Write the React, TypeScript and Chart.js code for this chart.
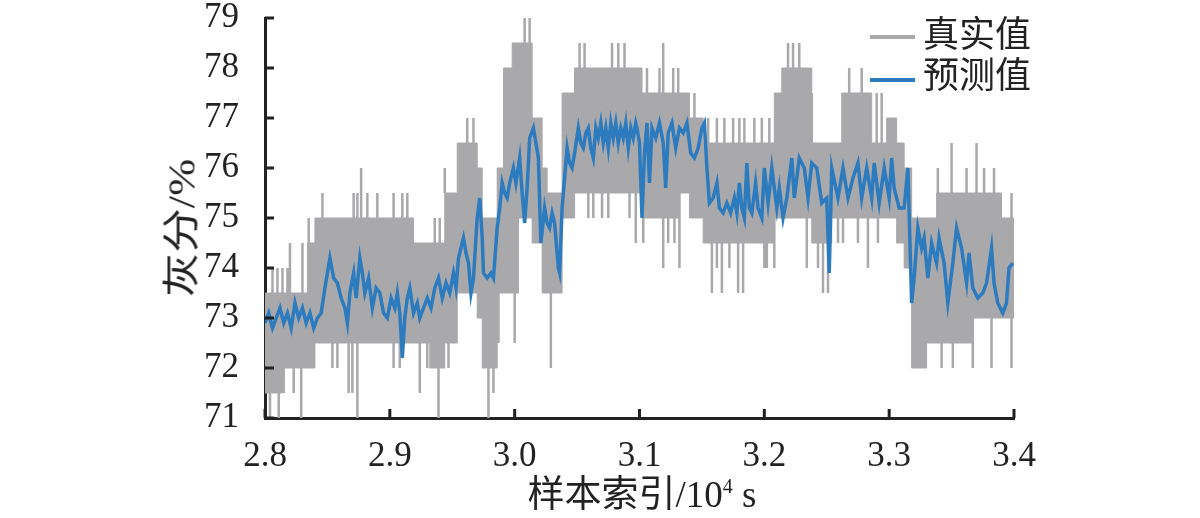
import { useEffect, useRef } from "react";
import Chart from "chart.js/auto";

const GRAY = "#a9a9ac";
const BLUE = "#2c7bbf";
const AXIS = "#222222";

// measured value band (start of each step, top and bottom of the dense band)
const bandT = [
  2.8, 2.814, 2.834, 2.84, 2.919, 2.932, 2.944, 2.954, 2.97, 2.974, 2.986, 2.991, 2.998, 3.003,
  3.014, 3.022, 3.026, 3.038, 3.048, 3.102, 3.132, 3.14, 3.151, 3.208, 3.214, 3.238, 3.254,
  3.262, 3.286, 3.298, 3.306, 3.312, 3.318, 3.33, 3.338, 3.367, 3.39, 3.4,
];
const bandHi = [
  73.5, 73.5, 74.5, 75, 74.5, 74.5, 75.5, 76.5, 76, 75, 76, 78, 78.5, 78.5,
  77, 76, 75.5, 77.5, 78, 77.5, 77.5, 77, 76.5, 77.5, 78, 76.5, 76.5,
  77.5, 76.5, 77, 76.5, 76, 75, 75, 75.5, 75.5, 75, 75,
];
const bandLo = [
  71.5, 72, 72, 72.5, 72.5, 72, 72.5, 73.5, 73, 72, 73.5, 73.5, 73.5, 75,
  74.5, 73.5, 73.5, 75, 75.5, 75, 75.5, 75, 74.5, 75, 75, 74.5, 75,
  75, 75, 75, 74.5, 74, 72, 72.5, 72.5, 73, 73, 73,
];

// single samples sticking out above the band
const upT = [
  2.806, 2.81, 2.814, 2.818, 2.82, 2.83, 2.835, 2.846, 2.871, 2.874, 2.877, 2.882, 2.89, 2.903,
  2.91, 2.914, 2.936, 2.94, 2.944, 2.962, 2.967, 3.008, 3.012, 3.052, 3.056, 3.078, 3.083, 3.088,
  3.106, 3.116, 3.119, 3.127, 3.131, 3.144, 3.155, 3.162, 3.168, 3.175, 3.18, 3.184, 3.192, 3.198,
  3.204, 3.219, 3.223, 3.228, 3.238, 3.268, 3.272, 3.278, 3.29, 3.294, 3.339, 3.35, 3.362, 3.37,
  3.376, 3.384, 3.398,
];
const upTop = [
  74, 74, 74, 74, 74.5, 74.5, 75, 75.5, 75.5, 75.5, 76, 75.5, 75.5, 75.5,
  75.5, 75.5, 75, 75, 76, 77, 77, 79, 79, 78.5, 78.5, 78.5, 78.5, 78.5,
  78, 78, 78.5, 78, 78, 77.5, 77, 77, 77, 77, 77, 77, 77, 77,
  77, 78.5, 78.5, 78.5, 77.5, 78, 77.5, 78, 77.5, 77.5, 76, 76.5, 76, 76.5,
  76, 76, 75.5,
];

// single samples dropping below the band
const downT = [
  2.804, 2.811, 2.815, 2.823, 2.829, 2.838, 2.854, 2.858, 2.867, 2.87, 2.874, 2.903, 2.908, 2.924,
  2.93, 2.939, 2.947, 2.979, 2.983, 2.987, 3.0, 3.029, 3.059, 3.063, 3.07, 3.075, 3.092, 3.097,
  3.103, 3.119, 3.123, 3.128, 3.132, 3.158, 3.162, 3.166, 3.172, 3.179, 3.183, 3.2, 3.202, 3.208,
  3.234, 3.243, 3.247, 3.251, 3.259, 3.263, 3.275, 3.283, 3.291, 3.342, 3.351, 3.367, 3.382, 3.398,
];
const downBottom = [
  71, 71, 71.5, 71.5, 71, 72, 72, 72, 71.5, 71.5, 71, 72, 72, 71.5,
  72, 71, 72, 71, 71.5, 72.5, 72.5, 72, 75, 75, 75, 75, 75, 74.5,
  74.5, 74, 74.5, 74.5, 74, 73.5, 74, 73.5, 74, 73.5, 73.5, 74, 74, 74,
  74, 74, 73.5, 73.5, 74.5, 74.5, 74.5, 74, 74.5, 72, 72, 72, 72, 72,
];

// predicted ash content
const predT = [
  2.8, 2.803, 2.806, 2.809, 2.812, 2.815, 2.818, 2.821, 2.824, 2.827, 2.83, 2.833, 2.836, 2.839,
  2.842, 2.845, 2.848, 2.852, 2.855, 2.858, 2.861, 2.864, 2.866, 2.868, 2.871, 2.873, 2.876, 2.878,
  2.88, 2.883, 2.886, 2.889, 2.892, 2.895, 2.898, 2.901, 2.904, 2.906, 2.908, 2.91, 2.912, 2.914,
  2.916, 2.919, 2.922, 2.924, 2.927, 2.93, 2.933, 2.936, 2.939, 2.942, 2.945, 2.948, 2.951, 2.953,
  2.955, 2.957, 2.959, 2.961, 2.963, 2.965, 2.967, 2.97, 2.972, 2.974, 2.975, 2.978, 2.981, 2.983,
  2.986, 2.988, 2.99, 2.992, 2.994, 2.996, 2.999, 3.001, 3.004, 3.006, 3.008, 3.01, 3.012, 3.015,
  3.017, 3.019, 3.021, 3.024, 3.026, 3.028, 3.03, 3.032, 3.035, 3.036, 3.038, 3.04, 3.042, 3.044,
  3.046, 3.048, 3.051, 3.053, 3.055, 3.057, 3.059, 3.061, 3.063, 3.065, 3.067, 3.069, 3.071, 3.073,
  3.075, 3.077, 3.079, 3.081, 3.083, 3.085, 3.087, 3.089, 3.091, 3.093, 3.095, 3.097, 3.098, 3.1,
  3.102, 3.104, 3.106, 3.108, 3.11, 3.113, 3.116, 3.119, 3.121, 3.123, 3.126, 3.129, 3.132, 3.135,
  3.138, 3.141, 3.144, 3.147, 3.15, 3.152, 3.154, 3.156, 3.159, 3.162, 3.164, 3.167, 3.17, 3.173,
  3.176, 3.178, 3.18, 3.182, 3.184, 3.186, 3.188, 3.19, 3.193, 3.195, 3.198, 3.2, 3.203, 3.206,
  3.21, 3.212, 3.215, 3.218, 3.222, 3.224, 3.228, 3.232, 3.235, 3.238, 3.242, 3.246, 3.25, 3.252,
  3.254, 3.259, 3.263, 3.267, 3.271, 3.275, 3.278, 3.282, 3.286, 3.288, 3.292, 3.296, 3.3, 3.302,
  3.304, 3.308, 3.312, 3.315, 3.318, 3.32, 3.323, 3.326, 3.328, 3.331, 3.334, 3.338, 3.34, 3.344,
  3.347, 3.351, 3.354, 3.358, 3.362, 3.364, 3.367, 3.371, 3.375, 3.378, 3.382, 3.384, 3.387, 3.391,
  3.394, 3.396, 3.399,
];
const predY = [
  72.9, 73.1, 72.8, 73.0, 73.2, 72.9, 73.1, 72.8, 73.3, 73.0, 73.2, 72.9, 73.1, 72.8,
  73.0, 73.1, 73.6, 74.2, 73.8, 73.7, 73.4, 73.2, 72.9, 73.5, 73.9, 73.4, 74.2, 73.9,
  73.5, 73.8, 73.2, 73.6, 73.5, 73.1, 73.0, 73.4, 73.2, 73.5, 73.1, 72.2, 73.0, 73.4,
  73.6, 73.1, 73.3, 73.0, 73.2, 73.4, 73.2, 73.6, 73.8, 73.4, 73.7, 73.5, 73.9, 73.6,
  74.2, 74.4, 74.6, 74.3, 74.1, 73.5, 73.8, 75.0, 75.4, 74.6, 73.9, 73.8, 73.9, 73.8,
  74.8, 75.2, 75.7, 75.5, 75.4, 75.7, 76.0, 75.7, 76.2, 75.5, 74.9, 75.6, 76.6, 76.8,
  76.5, 76.2, 74.5, 75.2, 74.9, 74.8, 75.1, 74.9, 74.0, 73.9, 75.2, 75.8, 76.4, 76.1,
  76.0, 76.3, 76.8, 76.5, 76.4, 76.7, 76.8, 76.4, 76.2, 76.8, 76.6, 76.9, 76.5, 76.8,
  76.4, 76.9, 76.6, 76.9, 76.5, 76.8, 76.6, 76.9, 76.4, 76.8, 76.6, 76.9, 76.8, 76.5,
  75.0, 76.3, 76.9, 75.7, 76.8, 76.6, 76.9, 76.5, 75.6, 76.7, 76.9, 76.4, 76.8, 76.7,
  76.9, 76.3, 76.2, 76.4, 76.8, 76.9, 76.0, 75.3, 75.4, 75.7, 75.2, 75.1, 75.3, 75.1,
  75.4, 75.1, 75.7, 75.2, 75.0, 76.1, 75.2, 75.1, 75.7, 75.2, 75.0, 76.0, 75.3, 76.0,
  75.2, 75.6, 75.0, 75.4, 76.2, 75.4, 76.2, 76.0, 75.4, 76.1, 76.0, 75.3, 75.4, 73.9,
  76.0, 75.4, 76.0, 75.4, 75.8, 76.1, 75.4, 76.0, 75.4, 76.1, 75.3, 76.0, 75.4, 76.2,
  75.6, 75.2, 75.2, 76.0, 73.3, 73.8, 74.8, 74.4, 74.6, 73.8, 74.5, 74.1, 74.6, 74.1,
  73.3, 74.1, 74.8, 74.4, 73.7, 74.3, 73.6, 73.4, 73.5, 73.7, 74.4, 73.7, 73.3, 73.1,
  73.3, 74.0, 74.1,
];

const xTicks = [2.8, 2.9, 3.0, 3.1, 3.2, 3.3, 3.4];
const yTicks = [71, 72, 73, 74, 75, 76, 77, 78, 79];

const SERIF = "'Liberation Serif', 'Times New Roman', 'Noto Sans CJK SC', serif";

function bandAt(t: number, values: number[]) {
  let k = 0;
  for (let i = 0; i < bandT.length; i++) if (bandT[i] <= t) k = i;
  return values[k];
}

const innerTicks = {
  id: "innerTicks",
  afterDatasetsDraw(chart: any) {
    const { ctx, chartArea, scales } = chart;
    ctx.save();
    ctx.strokeStyle = AXIS;
    ctx.lineWidth = 3;
    ctx.beginPath();
    xTicks.forEach((v) => {
      const px = scales.x.getPixelForValue(v);
      ctx.moveTo(px, chartArea.bottom);
      ctx.lineTo(px, chartArea.bottom - 9);
    });
    yTicks.forEach((v) => {
      const py = scales.y.getPixelForValue(v);
      ctx.moveTo(chartArea.left, py);
      ctx.lineTo(chartArea.left + 9, py);
    });
    ctx.stroke();
    ctx.restore();
  },
};

export default function App() {
  const canvasRef = useRef<HTMLCanvasElement | null>(null);

  useEffect(() => {
    if (!canvasRef.current) {
      return;
    }

    const spikes: { x: number; y: number | null }[] = [];
    upT.forEach((t, i) => {
      spikes.push({ x: t, y: bandAt(t, bandHi) }, { x: t, y: upTop[i] }, { x: t, y: null });
    });
    downT.forEach((t, i) => {
      spikes.push({ x: t, y: bandAt(t, bandLo) }, { x: t, y: downBottom[i] }, { x: t, y: null });
    });

    const chart = new Chart(canvasRef.current, {
      type: "line",
      data: {
        datasets: [
          {
            label: "预测值",
            data: predT.map((t, i) => ({ x: t, y: predY[i] })),
            borderColor: BLUE,
            borderWidth: 3.5,
            pointRadius: 0,
            order: 0,
          },
          {
            label: "spikes",
            data: spikes,
            borderColor: GRAY,
            borderWidth: 2.5,
            pointRadius: 0,
            spanGaps: false,
            order: 1,
          },
          {
            label: "真实值",
            data: bandT.map((t, i) => ({ x: t, y: bandHi[i] })),
            stepped: "before",
            borderColor: GRAY,
            borderWidth: 1,
            backgroundColor: GRAY,
            fill: "+1",
            pointRadius: 0,
            order: 2,
          },
          {
            label: "lower",
            data: bandT.map((t, i) => ({ x: t, y: bandLo[i] })),
            stepped: "before",
            borderColor: GRAY,
            borderWidth: 1,
            fill: false,
            pointRadius: 0,
            order: 3,
          },
        ],
      },
      options: {
        animation: false,
        responsive: false,
        layout: { padding: { top: 18, right: 186, left: 0, bottom: 0 } },
        plugins: {
          legend: { display: false },
          tooltip: { enabled: false },
        },
        scales: {
          x: {
            type: "linear",
            min: 2.8,
            max: 3.4,
            afterFit: (s: any) => {
              s.height = 100;
              s.paddingLeft = 0;
              s.paddingRight = 0;
            },
            afterBuildTicks: (s: any) => {
              s.ticks = xTicks.map((v) => ({ value: v }));
            },
            grid: { display: false },
            border: { display: true, color: AXIS, width: 3 },
            ticks: {
              callback: (v: any) => Number(v).toFixed(1),
              font: { family: SERIF, size: 35 },
              color: AXIS,
              padding: 10,
              maxRotation: 0,
              autoSkip: false,
            },
          },
          y: {
            min: 71,
            max: 79,
            afterFit: (s: any) => {
              s.width = 265;
              s.paddingTop = 0;
              s.paddingBottom = 0;
            },
            afterBuildTicks: (s: any) => {
              s.ticks = yTicks.map((v) => ({ value: v }));
            },
            grid: { display: false },
            border: { display: true, color: AXIS, width: 3 },
            ticks: {
              font: { family: SERIF, size: 35 },
              color: AXIS,
              padding: 18,
            },
          },
        },
      },
      plugins: [innerTicks],
    });

    return () => chart.destroy();
  }, []);

  const text = { position: "absolute" as const, whiteSpace: "nowrap" as const, fontFamily: SERIF, color: AXIS, lineHeight: 1 };

  return (
    <div style={{ position: "fixed", left: 0, top: 0, width: 1200, height: 518, background: "#fff" }}>
      <canvas ref={canvasRef} width={1200} height={518} style={{ width: 1200, height: 518 }} />
      <div style={{ ...text, left: 642, top: 494, fontSize: 37, transform: "translate(-50%, -50%)" }}>
        样本索引/10<sup style={{ fontSize: 20 }}>4</sup> s
      </div>
      <div
        style={{
          ...text,
          left: 182,
          top: 228,
          fontSize: 37,
          transform: "translate(-50%, -50%) rotate(-90deg) scale(1.2, 1)",
        }}
      >
        灰分/%
      </div>
      <div style={{ position: "absolute", left: 870, top: 35, width: 45, height: 4, background: GRAY }} />
      <div style={{ ...text, left: 923, top: 35, fontSize: 36, transform: "translateY(-50%)" }}>真实值</div>
      <div style={{ position: "absolute", left: 870, top: 78, width: 45, height: 4, background: BLUE }} />
      <div style={{ ...text, left: 923, top: 76, fontSize: 36, transform: "translateY(-50%)" }}>预测值</div>
    </div>
  );
}
